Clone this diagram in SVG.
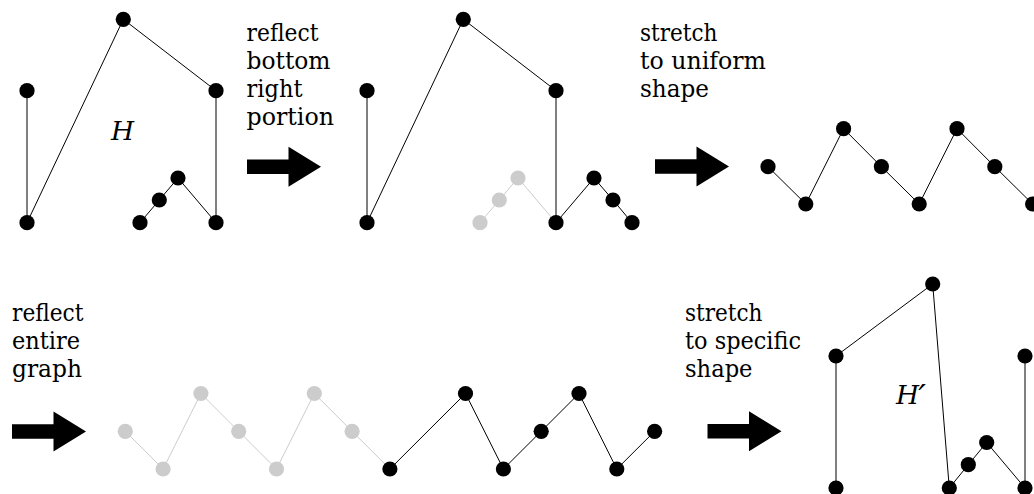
<svg xmlns="http://www.w3.org/2000/svg" width="1034" height="494" viewBox="0 0 1034 494">
<style>
.n{fill:#000}
.g{fill:#cccccc}
.e{stroke:#000;stroke-width:1;fill:none}
.eg{stroke:#cccccc;stroke-width:1;fill:none}
.t{font-family:"DejaVu Serif","Liberation Serif",serif;font-size:23.5px;fill:#000}
.m{font-family:"DejaVu Serif","Liberation Serif",serif;font-style:italic;font-size:26.5px;fill:#000}
.pr{font-size:34px}
.arrow{fill:#000}
</style>
<defs>
<path id="arr" d="M0,-7.3 H41.5 V-20 L74,0 L41.5,20 V7.3 H0 Z"/>
</defs>
<rect width="1034" height="494" fill="#fff"/>

<g id="connectors">
<!-- graph H -->
<line class="e" x1="27" y1="90.7" x2="27" y2="222.7"/>
<line class="e" x1="27" y1="222.7" x2="123.3" y2="19.3"/>
<line class="e" x1="123.3" y1="19.3" x2="216" y2="90.7"/>
<line class="e" x1="216" y1="90.7" x2="216" y2="222.7"/>
<line class="e" x1="216" y1="222.7" x2="178" y2="178"/>
<line class="e" x1="178" y1="178" x2="159.3" y2="200"/>
<line class="e" x1="159.3" y1="200" x2="140" y2="222.7"/>
<!-- graph 2 -->
<line class="eg" x1="556" y1="222.7" x2="518" y2="178"/>
<line class="eg" x1="518" y1="178" x2="499.3" y2="200"/>
<line class="eg" x1="499.3" y1="200" x2="480" y2="222.7"/>
<line class="e" x1="367" y1="90.7" x2="367" y2="222.7"/>
<line class="e" x1="367" y1="222.7" x2="463.3" y2="19.3"/>
<line class="e" x1="463.3" y1="19.3" x2="556" y2="90.7"/>
<line class="e" x1="556" y1="90.7" x2="556" y2="222.7"/>
<line class="e" x1="556" y1="222.7" x2="594" y2="178"/>
<line class="e" x1="594" y1="178" x2="613" y2="200"/>
<line class="e" x1="613" y1="200" x2="632" y2="222.7"/>
<!-- zigzag top -->
<polyline class="e" points="768,166.7 805.8,204 843.6,128.7 881.4,166.7 919.2,204 957,128.7 994.8,166.7 1032.6,204"/>
<!-- zigzag bottom grey -->
<polyline class="eg" points="125.3,431.3 163.1,469 200.9,393.5 238.7,431.3 276.5,469 314.3,393.5 352.1,431.3 389.9,469"/>
<!-- zigzag bottom black -->
<polyline class="e" points="389.9,469 465.5,393.5 503.4,469 541.2,431.3 579,393.5 616.8,469 654.6,431.3"/>
<!-- graph H' -->
<line class="e" x1="836" y1="356" x2="836" y2="488"/>
<line class="e" x1="836" y1="356" x2="932.7" y2="284"/>
<line class="e" x1="932.7" y1="284" x2="949.3" y2="488"/>
<line class="e" x1="949.3" y1="488" x2="968.3" y2="464.7"/>
<line class="e" x1="968.3" y1="464.7" x2="986.7" y2="442.5"/>
<line class="e" x1="986.7" y1="442.5" x2="1025" y2="488"/>
<line class="e" x1="1025" y1="488" x2="1025" y2="356"/>
</g>

<g id="graph-H">
<g id="h1"><circle class="n" cx="27" cy="90.7" r="7.6"/></g>
<g id="h2"><circle class="n" cx="27" cy="222.7" r="7.6"/></g>
<g id="h3"><circle class="n" cx="123.3" cy="19.3" r="7.6"/></g>
<g id="h4"><circle class="n" cx="216" cy="90.7" r="7.6"/></g>
<g id="h5"><circle class="n" cx="216" cy="222.7" r="7.6"/></g>
<g id="h6"><circle class="n" cx="178" cy="178" r="7.6"/></g>
<g id="h7"><circle class="n" cx="159.3" cy="200" r="7.6"/></g>
<g id="h8"><circle class="n" cx="140" cy="222.7" r="7.6"/></g>
<g id="label-H"><text class="m" x="122.5" y="139.5" text-anchor="middle">H</text></g>
</g>

<g id="graph-2">
<g id="m6"><circle class="g" cx="518" cy="178" r="7.6"/></g>
<g id="m7"><circle class="g" cx="499.3" cy="200" r="7.6"/></g>
<g id="m8"><circle class="g" cx="480" cy="222.7" r="7.6"/></g>
<g id="m1"><circle class="n" cx="367" cy="90.7" r="7.6"/></g>
<g id="m2"><circle class="n" cx="367" cy="222.7" r="7.6"/></g>
<g id="m3"><circle class="n" cx="463.3" cy="19.3" r="7.6"/></g>
<g id="m4"><circle class="n" cx="556" cy="90.7" r="7.6"/></g>
<g id="m5"><circle class="n" cx="556" cy="222.7" r="7.6"/></g>
<g id="m9"><circle class="n" cx="594" cy="178" r="7.6"/></g>
<g id="m10"><circle class="n" cx="613" cy="200" r="7.6"/></g>
<g id="m11"><circle class="n" cx="632" cy="222.7" r="7.6"/></g>
</g>

<g id="graph-3">
<g id="z1"><circle class="n" cx="768" cy="166.7" r="7.6"/></g>
<g id="z2"><circle class="n" cx="805.8" cy="204" r="7.6"/></g>
<g id="z3"><circle class="n" cx="843.6" cy="128.7" r="7.6"/></g>
<g id="z4"><circle class="n" cx="881.4" cy="166.7" r="7.6"/></g>
<g id="z5"><circle class="n" cx="919.2" cy="204" r="7.6"/></g>
<g id="z6"><circle class="n" cx="957" cy="128.7" r="7.6"/></g>
<g id="z7"><circle class="n" cx="994.8" cy="166.7" r="7.6"/></g>
<g id="z8"><circle class="n" cx="1032.6" cy="204" r="7.6"/></g>
</g>

<g id="graph-4">
<g id="g1"><circle class="g" cx="125.3" cy="431.3" r="7.6"/></g>
<g id="g2"><circle class="g" cx="163.1" cy="469" r="7.6"/></g>
<g id="g3"><circle class="g" cx="200.9" cy="393.5" r="7.6"/></g>
<g id="g4"><circle class="g" cx="238.7" cy="431.3" r="7.6"/></g>
<g id="g5"><circle class="g" cx="276.5" cy="469" r="7.6"/></g>
<g id="g6"><circle class="g" cx="314.3" cy="393.5" r="7.6"/></g>
<g id="g7"><circle class="g" cx="352.1" cy="431.3" r="7.6"/></g>
<g id="b1"><circle class="n" cx="389.9" cy="469" r="7.6"/></g>
<g id="b2"><circle class="n" cx="465.5" cy="393.5" r="7.6"/></g>
<g id="b3"><circle class="n" cx="503.4" cy="469" r="7.6"/></g>
<g id="b4"><circle class="n" cx="541.2" cy="431.3" r="7.6"/></g>
<g id="b5"><circle class="n" cx="579" cy="393.5" r="7.6"/></g>
<g id="b6"><circle class="n" cx="616.8" cy="469" r="7.6"/></g>
<g id="b7"><circle class="n" cx="654.6" cy="431.3" r="7.6"/></g>
</g>

<g id="graph-Hprime">
<g id="p1"><circle class="n" cx="836" cy="356" r="7.6"/></g>
<g id="p2"><circle class="n" cx="836" cy="488" r="7.6"/></g>
<g id="p3"><circle class="n" cx="932.7" cy="284" r="7.6"/></g>
<g id="p4"><circle class="n" cx="949.3" cy="488" r="7.6"/></g>
<g id="p5"><circle class="n" cx="968.3" cy="464.7" r="7.6"/></g>
<g id="p6"><circle class="n" cx="986.7" cy="442.5" r="7.6"/></g>
<g id="p7"><circle class="n" cx="1025" cy="488" r="7.6"/></g>
<g id="p8"><circle class="n" cx="1025" cy="356" r="7.6"/></g>
<g id="label-Hprime"><text class="m" x="896" y="404.3">H<tspan class="pr" dy="5" dx="-1">′</tspan></text></g>
</g>

<g id="step1">
<text class="t" x="246.5" y="40.8" textLength="72" lengthAdjust="spacingAndGlyphs">reflect</text>
<text class="t" x="246.5" y="69" textLength="84" lengthAdjust="spacingAndGlyphs">bottom</text>
<text class="t" x="246.5" y="97.2" textLength="56" lengthAdjust="spacingAndGlyphs">right</text>
<text class="t" x="246.5" y="125.2" textLength="87.5" lengthAdjust="spacingAndGlyphs">portion</text>
<use href="#arr" class="arrow" transform="translate(247,166.7)"/>
</g>
<g id="step2">
<text class="t" x="640" y="40.8" textLength="77.5" lengthAdjust="spacingAndGlyphs">stretch</text>
<text class="t" x="640" y="69" textLength="126" lengthAdjust="spacingAndGlyphs">to uniform</text>
<text class="t" x="640" y="97.2" textLength="69" lengthAdjust="spacingAndGlyphs">shape</text>
<use href="#arr" class="arrow" transform="translate(655,166.5)"/>
</g>
<g id="step3">
<text class="t" x="12" y="320.8" textLength="71.5" lengthAdjust="spacingAndGlyphs">reflect</text>
<text class="t" x="12" y="349" textLength="68" lengthAdjust="spacingAndGlyphs">entire</text>
<text class="t" x="12" y="377.2" textLength="70" lengthAdjust="spacingAndGlyphs">graph</text>
<use href="#arr" class="arrow" transform="translate(12,431.5)"/>
</g>
<g id="step4">
<text class="t" x="685" y="320.8" textLength="77.5" lengthAdjust="spacingAndGlyphs">stretch</text>
<text class="t" x="685" y="349" textLength="116" lengthAdjust="spacingAndGlyphs">to specific</text>
<text class="t" x="685" y="377.2" textLength="67.5" lengthAdjust="spacingAndGlyphs">shape</text>
<use href="#arr" class="arrow" transform="translate(707.5,431.3)"/>
</g>
</svg>
